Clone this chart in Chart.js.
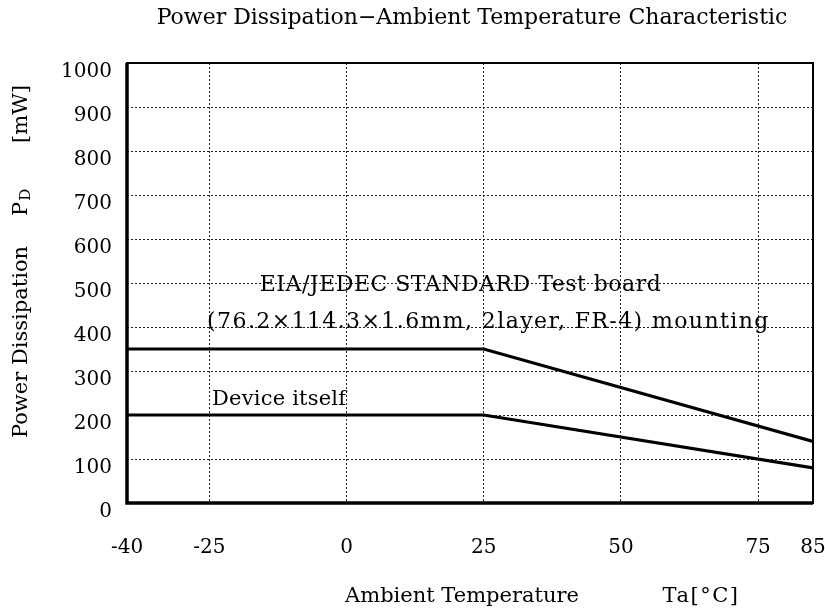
<!DOCTYPE html>
<html>
<head>
<meta charset="utf-8">
<script src="https://cdn.jsdelivr.net/npm/chart.js@4/dist/chart.umd.min.js"></script>
<style>
  html, body { margin: 0; padding: 0; background: #fff; }
  #wrap { width: 825px; height: 612px; }
</style>
</head>
<body>
<div id="wrap"><canvas id="pdChart" width="825" height="612"></canvas></div>
<script>
// --- DATA ---
const temps = [-40, 25, 85];                 // Ta [°C]
const boardPd = [350, 350, 140];             // EIA/JEDEC test board mounting [mW]
const devicePd = [200, 200, 80];             // device itself [mW]
const xTicks = [-40, -25, 0, 25, 50, 75, 85];
const yTicks = [0, 100, 200, 300, 400, 500, 600, 700, 800, 900, 1000];

const SERIF = '"DejaVu Serif", "Liberation Serif", serif';

// --- TEXT LABELS (placed in data units) ---
const notes = [
  { text: 'EIA/JEDEC STANDARD Test board', x: -15.8, y: 495, size: 22, spacing: 0.5 },
  { text: '(76.2\u00d7114.3\u00d71.6mm, 2layer, FR-4) mounting', x: -25.4, y: 411, size: 22, spacing: 1.4 },
  { text: 'Device itself', x: -24.5, y: 234, size: 21, spacing: 0.2 }
];

// draws title, axis titles, notes and the plot frame
const decorations = {
  id: 'decorations',
  afterDraw(chart) {
    const ctx = chart.ctx;
    const area = chart.chartArea;
    const xs = chart.scales.x, ys = chart.scales.y;
    const midX = (area.left + area.right) / 2;
    ctx.save();
    ctx.fillStyle = '#000';
    ctx.textBaseline = 'middle';
    ctx.textAlign = 'center';

    // title
    ctx.font = '22px ' + SERIF;
    ctx.fillText('Power Dissipation\u2212Ambient Temperature Characteristic', midX + 2, 18);

    // x axis title
    ctx.font = '21px ' + SERIF;
    ctx.fillText('Ambient Temperature', 462, 597);
    ctx.letterSpacing = '1.5px';
    ctx.fillText('Ta[\u00b0C]', 701, 597);
    ctx.letterSpacing = '0px';

    // y axis title with subscript D
    ctx.translate(22, 0);
    ctx.rotate(-Math.PI / 2);
    ctx.fillText('Power Dissipation', -342, 0);
    ctx.textAlign = 'left';
    ctx.fillText('P', -216, 0);
    const wp = ctx.measureText('P').width;
    ctx.font = '15px ' + SERIF;
    ctx.fillText('D', -216 + wp + 1, 4);
    ctx.font = '21px ' + SERIF;
    ctx.textAlign = 'center';
    ctx.fillText('[mW]', -114, 0);
    ctx.setTransform(1, 0, 0, 1, 0, 0);

    // notes
    ctx.textAlign = 'left';
    notes.forEach(n => {
      ctx.font = n.size + 'px ' + SERIF;
      ctx.letterSpacing = n.spacing + 'px';
      ctx.fillText(n.text, xs.getPixelForValue(n.x), ys.getPixelForValue(n.y));
    });
    ctx.letterSpacing = '0px';

    // frame
    ctx.strokeStyle = '#000';
    ctx.lineWidth = 2;
    ctx.strokeRect(area.left, area.top, area.right - area.left, area.bottom - area.top);
    ctx.lineWidth = 3.5;
    ctx.beginPath();
    ctx.moveTo(area.left, area.top);
    ctx.lineTo(area.left, area.bottom);
    ctx.lineTo(area.right, area.bottom);
    ctx.stroke();
    ctx.restore();
  }
};

const gridStyle = {
  color: '#222',
  lineWidth: 1,
  drawTicks: false
};

new Chart(document.getElementById('pdChart'), {
  type: 'line',
  data: {
    datasets: [
      { label: 'EIA/JEDEC board', data: temps.map((t, i) => ({ x: t, y: boardPd[i] })) },
      { label: 'Device itself', data: temps.map((t, i) => ({ x: t, y: devicePd[i] })) }
    ]
  },
  options: {
    responsive: false,
    animation: false,
    layout: { padding: { top: 63, right: 12, left: 0, bottom: 0 } },
    elements: {
      line: { borderColor: '#000', borderWidth: 3.2, tension: 0 },
      point: { radius: 0 }
    },
    plugins: { legend: { display: false }, tooltip: { enabled: false } },
    scales: {
      x: {
        type: 'linear',
        min: -40, max: 85,
        afterBuildTicks: s => { s.ticks = xTicks.map(v => ({ value: v })); },
        afterFit: s => { s.height = 109; s.paddingLeft = 0; s.paddingRight = 0; },
        grid: gridStyle,
        border: { display: false, dash: [2, 2] },
        ticks: {
          color: '#000', padding: 33, maxRotation: 0,
          font: { family: SERIF, size: 20 },
          callback: v => String(v)
        }
      },
      y: {
        min: 0, max: 1000,
        afterBuildTicks: s => { s.ticks = yTicks.map(v => ({ value: v })); },
        afterFit: s => { s.width = 127; s.paddingTop = 0; s.paddingBottom = 0; },
        grid: gridStyle,
        border: { display: false, dash: [2, 2] },
        ticks: {
          color: '#000', padding: 15, labelOffset: 9,
          font: { family: SERIF, size: 20 },
          callback: v => String(v)
        }
      }
    }
  },
  plugins: [decorations]
});
</script>
</body>
</html>
